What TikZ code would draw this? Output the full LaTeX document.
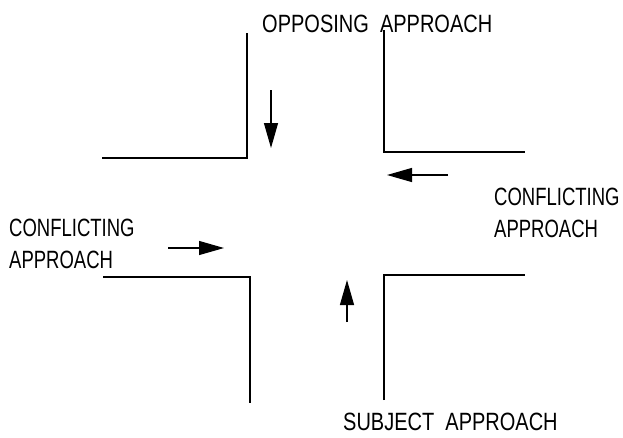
\documentclass[tikz,border=0pt]{standalone}
\usepackage{fontspec}
\setmainfont{Liberation Sans}[FakeStretch=0.8]
\newfontfamily\sidefont{Liberation Sans}[FakeStretch=0.74]
\newfontfamily\streetfont{Liberation Sans}[FakeStretch=0.8,WordSpace=2]
\usetikzlibrary{arrows.meta}
\begin{document}
\begin{tikzpicture}[x=1pt,y=-1pt,
  curb/.style={line width=1.3pt},
  flow/.style={line width=1.2pt,-{Triangle[length=25pt,width=14pt]}},
  lbl/.style={inner sep=0pt,anchor=base west,font=\streetfont\fontsize{25}{34}\selectfont},
  sidelbl/.style={inner sep=0pt,anchor=base west,align=left,font=\sidefont\fontsize{25}{32}\selectfont}]
\useasboundingbox (0,0) rectangle (623,437);
% street corners
\draw[curb] (102,158) -- (247,158) -- (247,33);
\draw[curb] (384,30) -- (384,152) -- (525,152);
\draw[curb] (103,277) -- (250,277) -- (250,403);
\draw[curb] (384,400) -- (384,275) -- (525,275);
% approach direction arrows
\coordinate (oppS) at (271,90);  \coordinate (oppE) at (271,148);
\coordinate (crS) at (448,175);  \coordinate (crE) at (387,175);
\coordinate (clS) at (168,248);  \coordinate (clE) at (224,248);
\coordinate (subS) at (347,322); \coordinate (subE) at (347,280);
\draw[flow] (oppS) -- (oppE);
\draw[flow] (crS) -- (crE);
\draw[flow] (clS) -- (clE);
\draw[flow] (subS) -- (subE);
% labels (a two-line node sits on the baseline of its last line)
\node[lbl] (opp) at (262,32) {OPPOSING APPROACH};
\node[sidelbl] (cl) at (9,268) {CONFLICTING\\APPROACH};
\node[sidelbl] (cr) at (494,237) {CONFLICTING\\APPROACH};
\node[lbl] (sub) at (343,430) {SUBJECT APPROACH};
\end{tikzpicture}
\end{document}
